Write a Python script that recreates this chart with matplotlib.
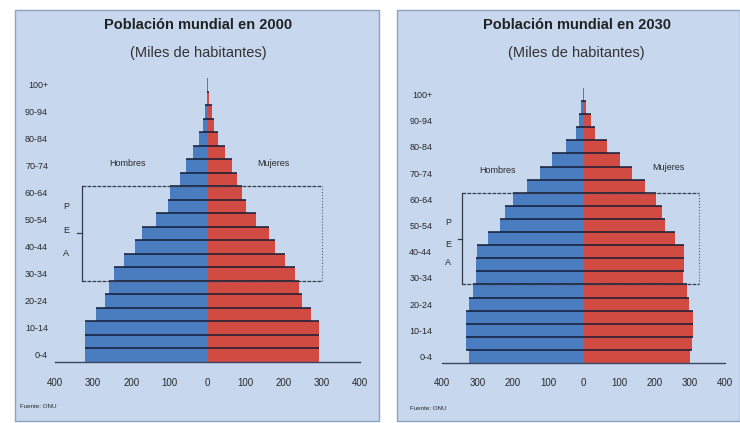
import matplotlib
matplotlib.use("Agg")
import matplotlib.pyplot as plt
from matplotlib.patches import Rectangle

plt.rcParams['font.family'] = ['Liberation Sans Narrow', 'Liberation Sans', 'DejaVu Sans']

# Age groups (bottom to top)
edades = ['0-4', '5-9', '10-14', '15-19', '20-24', '25-29', '30-34', '35-39',
          '40-44', '45-49', '50-54', '55-59', '60-64', '65-69', '70-74',
          '75-79', '80-84', '85-89', '90-94', '95-99', '100+']

# World population by sex, year 2000
hombres_2000 = [320, 320, 320, 293, 269, 258, 245, 219, 189, 173, 135,
                104, 98, 73, 56, 39, 21, 11, 6, 2, 1]
mujeres_2000 = [293, 293, 293, 271, 247, 241, 230, 203, 177, 160, 127,
                101, 90, 77, 63, 46, 28, 17, 11, 3, 1]

# World population by sex, projection 2030
hombres_2030 = [325, 332, 332, 332, 325, 313, 304, 304, 302, 269, 236,
                222, 198, 160, 123, 88, 49, 21, 12, 6, 2]
mujeres_2030 = [301, 306, 310, 310, 299, 293, 280, 284, 284, 258, 230,
                221, 205, 175, 136, 104, 66, 33, 20, 6, 2]

x_ticks = [-400, -300, -200, -100, 0, 100, 200, 300, 400]
x_labels = ['400', '300', '200', '100', '0', '100', '200', '300', '400']

W, H = 740, 423
BG = '#c6d7ee'
AZUL = '#4a7cc0'
ROJO = '#d14b43'
BORDE = '#141c34'
TXT = '#2a2a2a'

fig = plt.figure(figsize=(W / 100, H / 100), dpi=100)
fig.patch.set_facecolor('white')


def fx(px):
    return px / W


def fy(py):
    return 1 - py / H


def panel(x0, x1, y0, y1):
    fig.add_artist(Rectangle((fx(x0), fy(y1)), fx(x1) - fx(x0), fy(y0) - fy(y1),
                             transform=fig.transFigure, facecolor=BG,
                             edgecolor='#8ea3bf', linewidth=1.0, zorder=0))


def piramide(ax, hombres, mujeres, pea_x, ypad, xpad):
    n = len(edades)
    pos = list(range(n))
    ax.barh(pos, [-v for v in hombres], height=1.0, color=AZUL,
            linewidth=0, zorder=2)
    ax.barh(pos, mujeres, height=1.0, color=ROJO, linewidth=0, zorder=2)
    # dark separators between age groups
    for i in range(n - 1):
        izq = max(hombres[i], hombres[i + 1])
        der = max(mujeres[i], mujeres[i + 1])
        ax.hlines(i + 0.5, -izq, der, color=BORDE, lw=1.1, zorder=3)
    ax.set_xlim(-400, 400)
    ax.set_ylim(-0.5, n - 0.5)
    ax.set_facecolor('none')
    for s in ['top', 'right', 'left']:
        ax.spines[s].set_visible(False)
    ax.spines['bottom'].set_color('#3a4660')
    ax.spines['bottom'].set_linewidth(1.0)
    ax.set_yticks(pos[::2])
    ax.set_yticklabels(edades[::2], fontsize=6.5, color=TXT)
    ax.set_xticks(x_ticks)
    ax.set_xticklabels(x_labels, fontsize=7, color=TXT)
    ax.tick_params(axis='y', length=0, pad=ypad)
    ax.tick_params(axis='x', length=0, pad=xpad)

    # PEA bracket (working-age population)
    xl, xr = pea_x
    yb, yt = 5.5, 12.5
    ax.plot([xl, xr], [yt, yt], color='#333a48', lw=0.9, ls=(0, (3, 1)), zorder=4)
    ax.plot([xl, xr], [yb, yb], color='#333a48', lw=0.9, ls=(0, (3, 1)), zorder=4)
    ax.plot([xl, xl], [yb, yt], color='#333a48', lw=0.9, zorder=4)
    ax.plot([xr, xr], [yb, yt], color='#555c6a', lw=0.8, ls=':', zorder=4)
    ax.plot([xl - 12, xl], [9.0, 9.0], color='#333a48', lw=0.9, zorder=4)


# ---- 2000 ----
panel(15, 379, 10, 421)
ax1 = fig.add_axes([fx(55), fy(361.7), fx(360) - fx(55), fy(78.2) - fy(361.7)])
piramide(ax1, hombres_2000, mujeres_2000, (-330, 300), ypad=5, xpad=12)
ax1.text(-370, 11.0, 'P', fontsize=6.5, color=TXT, ha='center', va='center')
ax1.text(-370, 9.25, 'E', fontsize=6.5, color=TXT, ha='center', va='center')
ax1.text(-370, 7.55, 'A', fontsize=6.5, color=TXT, ha='center', va='center')
ax1.text(-209, 14.2, 'Hombres', fontsize=6.5, color=TXT, ha='center', va='center')
ax1.text(172, 14.2, 'Mujeres', fontsize=6.5, color=TXT, ha='center', va='center')
fig.text(fx(198), fy(25), 'Población mundial en 2000', fontsize=10.5,
         fontweight='bold', color='#222222', ha='center', va='center')
fig.text(fx(198), fy(53), '(Miles de habitantes)', fontsize=10.5,
         color='#333333', ha='center', va='center')
fig.text(fx(20), fy(406), 'Fuente: ONU', fontsize=4.5, color=TXT,
         ha='left', va='center')

# ---- 2030 ----
panel(397, 740, 10, 421)
ax2 = fig.add_axes([fx(442), fy(363), fx(725) - fx(442), fy(88) - fy(363)])
piramide(ax2, hombres_2030, mujeres_2030, (-344, 326), ypad=7, xpad=11)
ax2.text(-383, 10.2, 'P', fontsize=6.5, color=TXT, ha='center', va='center')
ax2.text(-383, 8.55, 'E', fontsize=6.5, color=TXT, ha='center', va='center')
ax2.text(-383, 7.2, 'A', fontsize=6.5, color=TXT, ha='center', va='center')
ax2.text(-244, 14.2, 'Hombres', fontsize=6.5, color=TXT, ha='center', va='center')
ax2.text(239, 14.4, 'Mujeres', fontsize=6.5, color=TXT, ha='center', va='center')
fig.text(fx(577), fy(25), 'Población mundial en 2030', fontsize=10.5,
         fontweight='bold', color='#222222', ha='center', va='center')
fig.text(fx(576), fy(53), '(Miles de habitantes)', fontsize=10.5,
         color='#333333', ha='center', va='center')
fig.text(fx(410), fy(408), 'Fuente: ONU', fontsize=4.5, color=TXT,
         ha='left', va='center')

fig.savefig('out.png', dpi=100, facecolor='white')
